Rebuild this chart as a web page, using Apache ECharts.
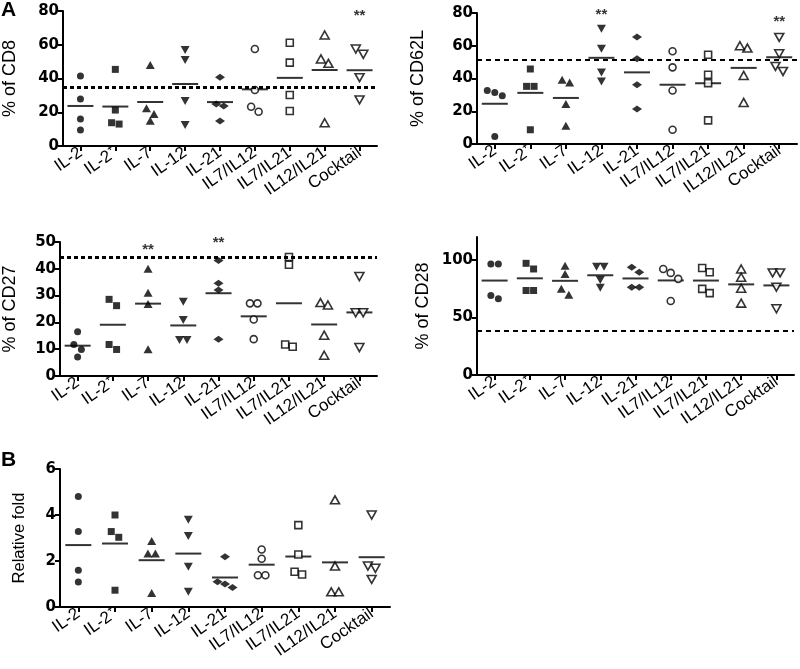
<!DOCTYPE html>
<html><head><meta charset="utf-8">
<script src="https://cdn.jsdelivr.net/npm/echarts@6/dist/echarts.min.js"></script>
<style>html,body{margin:0;padding:0;background:#fff}#c{width:800px;height:669px}</style>
</head><body><div id="c"></div>
<script>
// ---------- DATA ----------
const categories = ['IL-2','IL-2\u207A','IL-7','IL-12','IL-21','IL7/IL12','IL7/IL21','IL12/IL21','Cocktail'];

const cd8 = [
 [41.5, 27.9, 16, 9.5],
 [45.4, 21.3, 13.8, 13],
 [48, 22.3, 19, 15],
 [56.9, 51, 26.7, 12.4],
 [40.7, 24.9, 23.7, 14.8],
 [57.5, 33.2, 23.3, 20.3],
 [61.2, 49.4, 30.2, 20.7],
 [65.8, 51.6, 49, 13.8],
 [57.5, 54.3, 40.5, 27.3]
];
const cd62l = [
 [31.5, 29.5, 32.7, 4.6],
 [45.8, 35.2, 35.2, 8.7],
 [37.6, 39.3, 24.4, 11.2],
 [70.4, 58.2, 43.7, 38.2],
 [65.3, 52.1, 36.2, 21.4],
 [56.6, 46.8, 32.7, 8.7],
 [54.5, 42.3, 37.2, 14.4],
 [58.6, 60, 41.9, 25.4],
 [65.1, 55.1, 47.4, 44.3]
];
const cd27 = [
 [16.5, 11.75, 9.9, 7.1],
 [28.6, 26.25, 11.75, 9.9],
 [40, 31.1, 26.9, 10],
 [27.75, 20.9, 13.4, 13.4],
 [43.1, 34.6, 32.1, 13.75],
 [27.1, 27.1, 21.1, 13.75],
 [44.4, 41.5, 11.75, 10.9],
 [27.4, 26.5, 15.25, 7.75],
 [37.1, 23.6, 23.6, 10.6]
];
const cd28 = [
 [96.5, 96.5, 69.2, 66.3],
 [97.1, 92.2, 73.5, 73.5],
 [95.1, 87.9, 74.9, 69.7],
 [94.2, 94.2, 82.7, 75.8],
 [93.7, 89.3, 76.4, 76.4],
 [92.2, 88.8, 83.6, 64.3],
 [93.1, 89.3, 74.9, 71.2],
 [92.2, 85, 75.5, 62.5],
 [88.8, 88.8, 76.4, 57.6]
];
const fold = [
 [4.8, 3.28, 1.6, 1.09],
 [4.0, 3.28, 3.03, 0.73],
 [2.87, 2.33, 2.33, 0.61],
 [3.79, 3.09, 1.75, 0.66],
 [2.18, 1.1, 1.0, 0.85],
 [2.5, 2.1, 1.38, 1.38],
 [3.56, 2.28, 1.53, 1.41],
 [4.66, 1.78, 0.66, 0.66],
 [4.0, 1.78, 1.68, 1.2]
];
const refCD8 = 34.6, refCD62L = 51.5, refCD27 = 44.2, refCD28 = 38.3;
const sigCD8 = [['Cocktail', 77]];
const sigCD62L = [['IL-12', 79], ['Cocktail', 74.3]];
const sigCD27 = [['IL-7', 47.1], ['IL-21', 49.6]];
const ticksCD8 = [0,20,40,60,80], ticksCD62L = [0,20,40,60,80], ticksCD27 = [0,10,20,30,40,50], ticksCD28 = [0,50,100], ticksFold = [0,2,4,6];

// ---------- STYLE ----------
const shapes  = ['circle','rect','triangle','triangle','diamond','circle','rect','triangle','triangle'];
const rotates = [0,0,0,180,0,0,0,0,180];
const filled  = [true,true,true,true,true,false,false,false,false];
const sizes   = [[7,7],[7,7],[9,8],[9,8],[10,7],[7,7],[7,7],[9,8],[9,8]];
const FONT = 'Liberation Sans';
const TICKFONT = 'DejaVu Sans';

const panels = [
 {vals: cd8,  ref: refCD8,  sig: sigCD8,  ticks: ticksCD8,  max: 80, name: '% of CD8',  nameSize:18, grid:{left:58, top:11, width:319, height:135}, nameGap:44, dash:[4,3], dw:3},
 {vals: cd62l,ref: refCD62L,sig: sigCD62L,ticks: ticksCD62L,max: 80, name: '% of CD62L',nameSize:18, grid:{left:477,top:13, width:320, height:131}, nameGap:50, dash:[5,4], dw:2},
 {vals: cd27, ref: refCD27, sig: sigCD27, ticks: ticksCD27, max: 50, name: '% of CD27', nameSize:18, grid:{left:58, top:242,width:319, height:134}, nameGap:41, dash:[4,3], dw:3},
 {vals: cd28, ref: refCD28, sig: [],      ticks: ticksCD28, max: 120,name: '% of CD28', nameSize:18, grid:{left:477,top:237,width:317, height:138}, nameGap:45, dash:[5,4], dw:2},
 {vals: fold, ref: null,    sig: [],      ticks: ticksFold, max: 6,  name: 'Relative fold', nameSize:16.5, grid:{left:60, top:469,width:330, height:138}, nameGap:32, dash:[4,3], dw:2}
];

function jitter(vals, unitsPerPx){
  const idx = vals.map((v,i)=>i).sort((a,b)=>vals[b]-vals[a]);
  const off = new Array(vals.length).fill(0);
  let cluster = [idx[0]];
  const flush = () => { const n = cluster.length; cluster.forEach((k,j)=>{ off[k] = (j-(n-1)/2)*7.5; }); };
  for (let i=1;i<idx.length;i++){
    const prev = cluster[cluster.length-1];
    if ((vals[prev]-vals[idx[i]])/unitsPerPx < 6.5) cluster.push(idx[i]);
    else { flush(); cluster=[idx[i]]; }
  }
  flush();
  return off;
}

const grids=[], xAxes=[], yAxes=[], series=[];
panels.forEach((p,pi)=>{
  grids.push(Object.assign({containLabel:false}, p.grid));
  xAxes.push({
    type:'category', gridIndex:pi, data:categories, boundaryGap:true,
    axisLine:{show:true, lineStyle:{color:'#000', width:2}},
    axisTick:{show:true, alignWithLabel:true, length:5, lineStyle:{color:'#000', width:2}},
    axisLabel:{interval:0, rotate:35, color:'#000', fontSize:17, fontFamily:FONT, margin:5},
    splitLine:{show:false}
  });
  yAxes.push({
    type:'value', gridIndex:pi, min:0, max:p.max,
    name:p.name, nameLocation:'middle', nameRotate:90, nameGap:p.nameGap,
    nameTextStyle:{color:'#000', fontSize:p.nameSize, fontFamily:FONT},
    axisLine:{show:true, lineStyle:{color:'#000', width:2}},
    axisTick:{show:true, length:5, lineStyle:{color:'#000', width:2}, customValues:p.ticks},
    axisLabel:{color:'#000', fontSize:15, fontWeight:'bold', fontFamily:TICKFONT, margin:4, customValues:p.ticks},
    splitLine:{show:false}
  });
  const upp = p.max / p.grid.height;
  const pts = [];
  const means = [];
  p.vals.forEach((arr,ci)=>{
    const off = jitter(arr, upp);
    arr.forEach((v,k)=>{
      pts.push({
        value:[ci, v], symbol:shapes[ci], symbolRotate:rotates[ci], symbolSize:sizes[ci],
        symbolOffset:[off[k],0],
        itemStyle: filled[ci] ? {color:'#000'} : {color:'#fff', borderColor:'#000', borderWidth:1.6}
      });
    });
    means.push([ci, arr.reduce((a,b)=>a+b,0)/arr.length]);
  });
  const s = {
    type:'scatter', xAxisIndex:pi, yAxisIndex:pi, data:pts, z:3, silent:true
  };
  if (p.ref !== null) {
    s.markLine = {silent:true, symbol:'none', label:{show:false},
      lineStyle:{color:'#000', type:p.dash, width:p.dw},
      data:[{yAxis:p.ref}]};
  }
  series.push(s);
  series.push({type:'scatter', xAxisIndex:pi, yAxisIndex:pi, data:means, symbol:'rect', symbolSize:[26,2],
    itemStyle:{color:'#000'}, z:2, silent:true});
  if (p.sig.length) {
    series.push({type:'scatter', xAxisIndex:pi, yAxisIndex:pi, data:p.sig, symbolSize:1, itemStyle:{color:'rgba(0,0,0,0)'},
      label:{show:true, position:'inside', formatter:'**', color:'#000', fontSize:15, fontWeight:'bold', fontFamily:FONT}, silent:true});
  }
});

const chart = echarts.init(document.getElementById('c'), null, {renderer:'canvas'});
chart.setOption({
  animation:false,
  backgroundColor:'#fff',
  grid:grids, xAxis:xAxes, yAxis:yAxes, series:series,
  graphic:[
    {type:'text', left:1, top:0, style:{text:'A', font:'bold 21px "Liberation Sans"', fill:'#000'}},
    {type:'text', left:1, top:450, style:{text:'B', font:'bold 21px "Liberation Sans"', fill:'#000'}}
  ]
});
</script></body></html>
